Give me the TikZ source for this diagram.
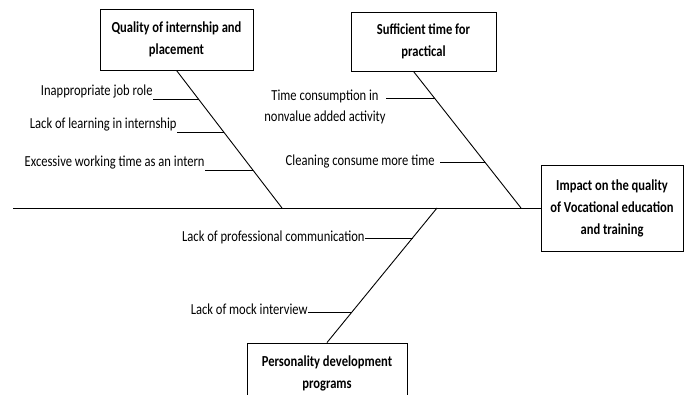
\documentclass[tikz,border=0pt]{standalone}
\usepackage{fontspec}
\setmainfont{Carlito}[FakeStretch=0.82]
\begin{document}
\begin{tikzpicture}[x=1pt,y=-1pt,line width=0.9pt]
\tikzstyle{cause}=[draw,align=center,font=\bfseries\fontsize{15.3}{22}\selectfont]
\tikzstyle{reason}=[inner sep=0pt,font=\fontsize{15.3}{21}\selectfont]
\useasboundingbox (0,0) rectangle (690,395);
\clip (0,0) rectangle (690,395);
% boxes
\draw (176.5,39.5) node[cause,minimum width=153,minimum height=61] (c1) {Quality of internship and\\placement};
\draw (423.5,41.5) node[cause,minimum width=145,minimum height=59] (c2) {Sufficient time for\\practical};
\draw (612,208) node[cause,minimum width=142,minimum height=86] (c3) {Impact on the quality\\of Vocational education\\and training};
\draw (327,373) node[cause,minimum width=160,minimum height=60] (c4) {Personality development\\programs};
% spine and bones
\coordinate (tail) at (13,208);
\coordinate (h1) at (282,208);
\coordinate (h2) at (521,208);
\coordinate (h3) at (437,208);
\draw (tail) -- (c3.west);
\draw (c1.south) -- (h1);
\draw ([xshift=-10pt]c2.south) -- (h2);
\draw (c4.north) -- (h3);
% points on the bones
\coordinate (b11) at (199,99);
\coordinate (b12) at (224,132);
\coordinate (b13) at (253,170);
\coordinate (b21) at (435,98);
\coordinate (b22) at (485,162);
\coordinate (b31) at (413,238);
\coordinate (b32) at (352,312);
% sub causes
\draw (153,96) node[reason,anchor=base east] (l11) {Inappropriate job role};
\draw (177,129) node[reason,anchor=base east] (l12) {Lack of learning in internship};
\draw (205,167) node[reason,anchor=base east] (l13) {Excessive working time as an intern};
\draw (325,107) node[reason,align=center] (l21) {Time consumption in\\nonvalue added activity};
\draw (435,162) node[reason,anchor=east] (l22) {Cleaning consume more time};
\draw (365,241) node[reason,anchor=base east] (l31) {Lack of professional communication};
\draw (308,314) node[reason,anchor=base east] (l32) {Lack of mock interview};
\draw (l11.east |- b11) -- (b11);
\draw (l12.east |- b12) -- (b12);
\draw (l13.east |- b13) -- (b13);
\draw (l21.east |- b21) -- (b21);
\draw ([xshift=5pt]l22.east) -- (b22);
\draw (l31.east |- b31) -- (b31);
\draw (l32.east |- b32) -- (b32);
\end{tikzpicture}
\end{document}
